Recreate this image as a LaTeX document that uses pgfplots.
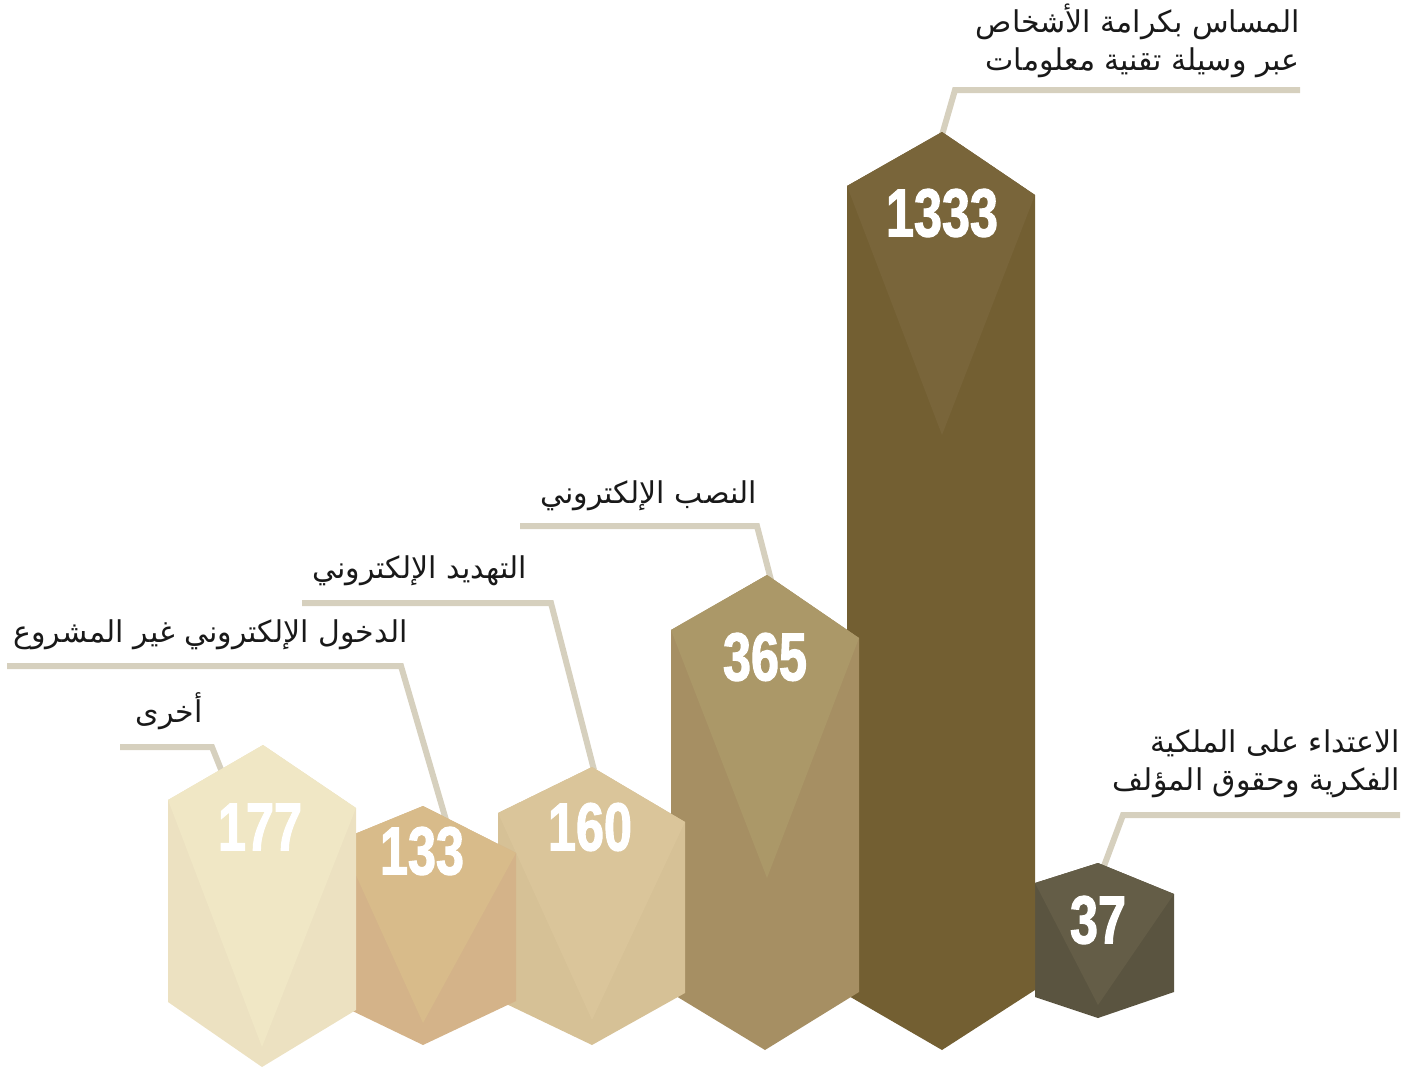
\documentclass[border=0pt]{standalone}
\usepackage{pgfplots}
\pgfplotsset{compat=1.18}
\usepackage{fontspec}
\TeXXeTstate=1
\newfontfamily\arabicfont[Script=Arabic]{DejaVu Sans}
\newfontfamily\numfont[FakeStretch=0.74, FakeBold=1.6]{Liberation Sans Bold}

\definecolor{lead}{HTML}{D6D0BE}
\definecolor{aTop}{HTML}{F0E7C5}\definecolor{aSide}{HTML}{ECE1C1}
\definecolor{bTop}{HTML}{D8BB8A}\definecolor{bSide}{HTML}{D4B389}
\definecolor{cTop}{HTML}{DAC59A}\definecolor{cSide}{HTML}{D6C196}
\definecolor{dTop}{HTML}{AB9868}\definecolor{dSide}{HTML}{A68F63}
\definecolor{eTop}{HTML}{79653A}\definecolor{eSide}{HTML}{735F32}
\definecolor{fTop}{HTML}{645D47}\definecolor{fSide}{HTML}{5A5440}

\begin{document}
\begin{tikzpicture}
\begin{axis}[
    width=710pt, height=533.5pt,
    scale only axis,
    xmin=0, xmax=1420,
    ymin=0, ymax=1067,
    y dir=reverse,
    hide axis,
    clip=false,
]
\path (rel axis cs:0,0) rectangle (rel axis cs:1,1);

% leader lines
\addplot[lead, line width=3pt] coordinates {(942,135) (955,90) (1300,90)};
\addplot[lead, line width=3pt] coordinates {(771,580) (757,526) (520,526)};
\addplot[lead, line width=3pt] coordinates {(594,770) (551,603) (302,603)};
\addplot[lead, line width=3pt] coordinates {(446,820) (401,666) (7,666)};
\addplot[lead, line width=3pt] coordinates {(222,772) (212,747) (120,747)};
\addplot[lead, line width=3pt] coordinates {(1104,866) (1123,815) (1400,815)};

% column 37
\addplot[fill=fSide, draw=none] coordinates {(1098,863) (1174,894) (1174,992) (1098,1018) (1035,997) (1035,883)};
\addplot[fill=fTop, draw=none] coordinates {(1035,883) (1098,863) (1174,894) (1098,1005)};
% column 1333
\addplot[fill=eSide, draw=none] coordinates {(942,132) (1035,195) (1035,990) (942,1050) (847,995) (847,186)};
\addplot[fill=eTop, draw=none] coordinates {(847,186) (942,132) (1035,195) (942,435)};
% column 365
\addplot[fill=dSide, draw=none] coordinates {(767,575) (859,638) (859,992) (765,1050) (671,993) (671,630)};
\addplot[fill=dTop, draw=none] coordinates {(671,630) (767,575) (859,638) (767,878)};
% column 160
\addplot[fill=cSide, draw=none] coordinates {(592,767) (685,822) (685,993) (592,1045) (498,1000) (498,813)};
\addplot[fill=cTop, draw=none] coordinates {(498,813) (592,767) (685,822) (592,1020)};
% column 133
\addplot[fill=bSide, draw=none] coordinates {(423,806) (516,853) (516,1001) (423,1045) (340,1005) (340,840)};
\addplot[fill=bTop, draw=none] coordinates {(340,840) (423,806) (516,853) (423,1023)};
% column 177
\addplot[fill=aSide, draw=none] coordinates {(263,745) (356,808) (356,1010) (262,1067) (168,1002) (168,800)};
\addplot[fill=aTop, draw=none] coordinates {(168,800) (263,745) (356,808) (262,1047)};

% values
\begin{scope}[every node/.style={text=white, font=\numfont\fontsize{34}{34}\selectfont, anchor=center}]
\node at (axis cs:942,213) {1333};
\node at (axis cs:765,657) {365};
\node at (axis cs:590,827) {160};
\node at (axis cs:422,851) {133};
\node at (axis cs:260,827) {177};
\node at (axis cs:1098,920) {37};
\end{scope}

% labels
\begin{scope}[every node/.style={text=black!90, font=\arabicfont\fontsize{15}{19}\selectfont, inner sep=0pt, align=right}]
\node[anchor=base east] at (axis cs:1300,70) {\beginR المساس بكرامة الأشخاص\endR\\ \beginR عبر وسيلة تقنية معلومات\endR};
\node[anchor=base east] at (axis cs:757,503) {\beginR النصب الإلكتروني\endR};
\node[anchor=base east] at (axis cs:527,578) {\beginR التهديد الإلكتروني\endR};
\node[anchor=base east] at (axis cs:408,642) {\beginR الدخول الإلكتروني غير المشروع\endR};
\node[anchor=base east] at (axis cs:203,722) {\beginR أخرى\endR};
\node[anchor=base east] at (axis cs:1400,790) {\beginR الاعتداء على الملكية\endR\\ \beginR الفكرية وحقوق المؤلف\endR};
\end{scope}
\end{axis}
\end{tikzpicture}
\end{document}
